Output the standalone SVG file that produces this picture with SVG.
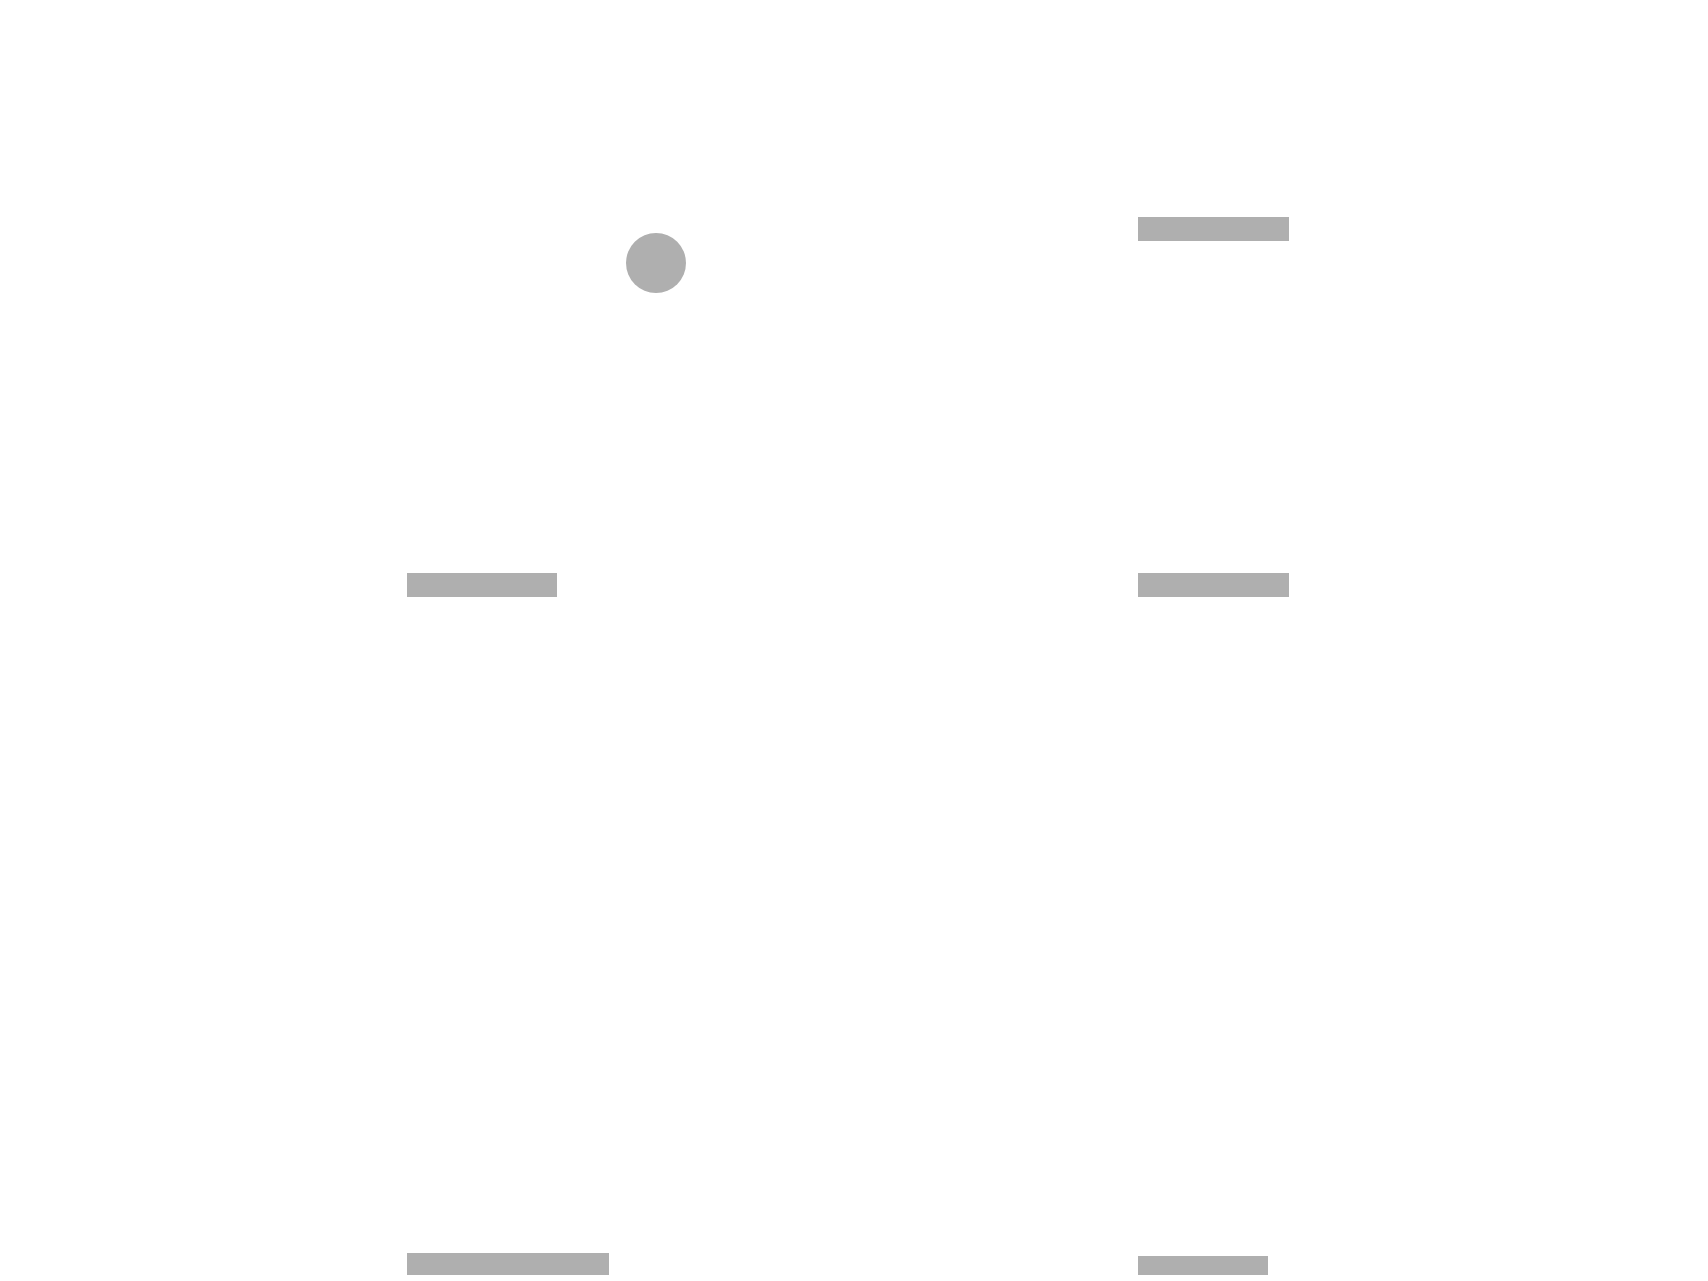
<svg xmlns="http://www.w3.org/2000/svg" width="1708" height="1281" viewBox="0 0 1708 1281">
<style>
.bar{fill:#afafaf}
</style>
<rect x="0" y="0" width="1708" height="1281" fill="#ffffff"/>
<g id="connectors"></g>
<g id="node-circle"><circle class="bar" cx="656" cy="263" r="30"/></g>
<g id="node-top-right"><rect class="bar" x="1138" y="217" width="151" height="24"/></g>
<g id="node-mid-left"><rect class="bar" x="407" y="573" width="150" height="24"/></g>
<g id="node-mid-right"><rect class="bar" x="1138" y="573" width="151" height="24"/></g>
<g id="node-bottom-left"><rect class="bar" x="407" y="1253" width="202" height="22"/></g>
<g id="node-bottom-right"><rect class="bar" x="1138" y="1256" width="130" height="19"/></g>
</svg>
